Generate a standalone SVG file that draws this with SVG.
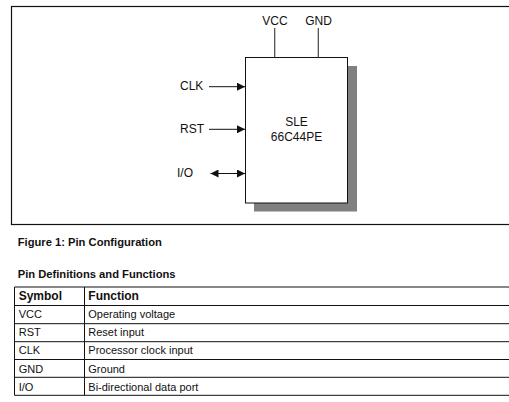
<svg xmlns="http://www.w3.org/2000/svg" width="509" height="402" viewBox="0 0 509 402">
<defs>
<style>
text{font-family:"Liberation Sans",Arial,sans-serif;fill:#111}
.lbl{font-size:12px}
.cap{font-size:11.2px;font-weight:bold}
.th{font-size:12px;font-weight:bold}
.td{font-size:11px}
.ln{stroke:#111;stroke-width:1;fill:none}
.pin{stroke:#444;stroke-width:1.2;fill:none}
</style>
<marker id="ah" viewBox="0 0 10 10" refX="10" refY="5" markerWidth="9" markerHeight="8" markerUnits="userSpaceOnUse" orient="auto-start-reverse">
<path d="M0,0 L10,5 L0,10 Z" fill="#111"/>
</marker>
</defs>
<rect width="509" height="402" fill="#fff"/>
<rect id="frame" x="11.5" y="6.5" width="510" height="218" fill="none" stroke="#111" stroke-width="1.2"/>
<g id="chip">
<rect x="254" y="66" width="103" height="145.5" fill="#808080"/>
<rect x="245.5" y="57.5" width="102" height="145.5" fill="#fff" stroke="#111" stroke-width="1"/>
<text class="lbl" x="296.5" y="126" text-anchor="middle">SLE</text>
<text class="lbl" x="296.5" y="141.3" text-anchor="middle">66C44PE</text>
</g>
<g id="pin-vcc"><text class="lbl" x="275" y="24.5" text-anchor="middle">VCC</text></g>
<g id="pin-gnd"><text class="lbl" x="318.5" y="24.5" text-anchor="middle">GND</text></g>
<g id="pin-clk"><text class="lbl" x="180" y="90">CLK</text></g>
<g id="pin-rst"><text class="lbl" x="180" y="133.3">RST</text></g>
<g id="pin-io"><text class="lbl" x="177" y="177.3">I/O</text></g>
<g id="connectors">
<line class="pin" x1="274.7" y1="28" x2="274.7" y2="57.5"/>
<line class="pin" x1="318.3" y1="28" x2="318.3" y2="57.5"/>
<line class="ln" x1="209" y1="86.7" x2="245" y2="86.7" marker-end="url(#ah)"/>
<line class="ln" x1="209" y1="129.3" x2="245" y2="129.3" marker-end="url(#ah)"/>
<line class="ln" x1="210.5" y1="173.5" x2="245" y2="173.5" marker-start="url(#ah)" marker-end="url(#ah)"/>
</g>
<text class="cap" x="17.7" y="245.7">Figure 1: Pin Configuration</text>
<text class="cap" x="17.7" y="278.3">Pin Definitions and Functions</text>
<g id="table">
<g class="ln">
<line x1="14.5" y1="287" x2="509" y2="287"/>
<line x1="14.5" y1="305.5" x2="509" y2="305.5"/>
<line x1="14.5" y1="323.7" x2="509" y2="323.7"/>
<line x1="14.5" y1="341.7" x2="509" y2="341.7"/>
<line x1="14.5" y1="359.5" x2="509" y2="359.5"/>
<line x1="14.5" y1="377.3" x2="509" y2="377.3"/>
<line x1="14.5" y1="395.3" x2="509" y2="395.3"/>
<line x1="14.5" y1="287" x2="14.5" y2="395.3"/>
<line x1="84.5" y1="287" x2="84.5" y2="395.3"/>
</g>
<text class="th" x="18.7" y="300.3">Symbol</text>
<text class="th" x="88.3" y="300.3">Function</text>
<text class="td" x="18.7" y="317.7">VCC</text>
<text class="td" x="88.3" y="317.7">Operating voltage</text>
<text class="td" x="18.7" y="336">RST</text>
<text class="td" x="88.3" y="336">Reset input</text>
<text class="td" x="18.7" y="354.3">CLK</text>
<text class="td" x="88.3" y="354.3">Processor clock input</text>
<text class="td" x="18.7" y="372.7">GND</text>
<text class="td" x="88.3" y="372.7">Ground</text>
<text class="td" x="18.7" y="390.7">I/O</text>
<text class="td" x="88.3" y="390.7">Bi-directional data port</text>
</g>
</svg>
